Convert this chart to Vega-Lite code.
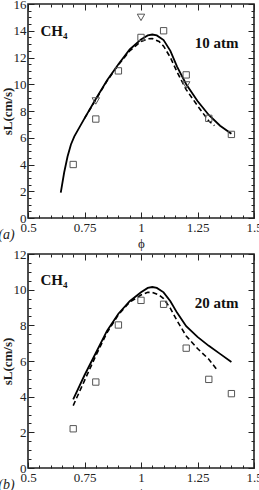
{
  "$schema": "https://vega.github.io/schema/vega-lite/v6.json",
  "padding": {"left": -3, "top": -3, "right": 0, "bottom": 0},
  "autosize": {"type": "pad"},
  "background": "white",
  "config": {
    "view": {"stroke": "#222", "strokeWidth": 1.6},
    "axis": {
      "grid": false,
      "domain": false,
      "tickColor": "#222",
      "tickWidth": 1,
      "labelFont": "Liberation Serif",
      "labelFontSize": 13,
      "labelColor": "#222",
      "labelFlush": false,
      "labelOverlap": false,
      "titleFont": "Liberation Serif",
      "titleColor": "#222"
    }
  },
  "datasets": {
    "curves": [
      {"panel": "a", "model": "solid", "phi": 0.645, "sL": 1.9},
      {"panel": "a", "model": "solid", "phi": 0.66, "sL": 3.4},
      {"panel": "a", "model": "solid", "phi": 0.675, "sL": 4.6},
      {"panel": "a", "model": "solid", "phi": 0.69, "sL": 5.5},
      {"panel": "a", "model": "solid", "phi": 0.705, "sL": 6.1},
      {"panel": "a", "model": "solid", "phi": 0.72, "sL": 6.55},
      {"panel": "a", "model": "solid", "phi": 0.75, "sL": 7.45},
      {"panel": "a", "model": "solid", "phi": 0.8, "sL": 8.9},
      {"panel": "a", "model": "solid", "phi": 0.85, "sL": 10.3},
      {"panel": "a", "model": "solid", "phi": 0.9, "sL": 11.5},
      {"panel": "a", "model": "solid", "phi": 0.95, "sL": 12.6},
      {"panel": "a", "model": "solid", "phi": 1.0, "sL": 13.35},
      {"panel": "a", "model": "solid", "phi": 1.03, "sL": 13.65},
      {"panel": "a", "model": "solid", "phi": 1.05, "sL": 13.72},
      {"panel": "a", "model": "solid", "phi": 1.07, "sL": 13.65},
      {"panel": "a", "model": "solid", "phi": 1.1, "sL": 13.3},
      {"panel": "a", "model": "solid", "phi": 1.13, "sL": 12.5},
      {"panel": "a", "model": "solid", "phi": 1.16, "sL": 11.3},
      {"panel": "a", "model": "solid", "phi": 1.2, "sL": 10.0},
      {"panel": "a", "model": "solid", "phi": 1.25, "sL": 8.75},
      {"panel": "a", "model": "solid", "phi": 1.3, "sL": 7.7},
      {"panel": "a", "model": "solid", "phi": 1.35, "sL": 6.9},
      {"panel": "a", "model": "solid", "phi": 1.4, "sL": 6.3},
      {"panel": "a", "model": "dashed", "phi": 0.75, "sL": 7.45},
      {"panel": "a", "model": "dashed", "phi": 0.8, "sL": 8.85},
      {"panel": "a", "model": "dashed", "phi": 0.85, "sL": 10.25},
      {"panel": "a", "model": "dashed", "phi": 0.9, "sL": 11.45},
      {"panel": "a", "model": "dashed", "phi": 0.95, "sL": 12.5},
      {"panel": "a", "model": "dashed", "phi": 1.0, "sL": 13.2},
      {"panel": "a", "model": "dashed", "phi": 1.03, "sL": 13.4},
      {"panel": "a", "model": "dashed", "phi": 1.05, "sL": 13.42},
      {"panel": "a", "model": "dashed", "phi": 1.08, "sL": 13.2},
      {"panel": "a", "model": "dashed", "phi": 1.1, "sL": 12.85},
      {"panel": "a", "model": "dashed", "phi": 1.13, "sL": 12.0},
      {"panel": "a", "model": "dashed", "phi": 1.16, "sL": 10.9},
      {"panel": "a", "model": "dashed", "phi": 1.2, "sL": 9.6},
      {"panel": "a", "model": "dashed", "phi": 1.25, "sL": 8.4},
      {"panel": "a", "model": "dashed", "phi": 1.3, "sL": 7.25},
      {"panel": "a", "model": "dashed", "phi": 1.325, "sL": 6.9},
      {"panel": "b", "model": "solid", "phi": 0.7, "sL": 3.85},
      {"panel": "b", "model": "solid", "phi": 0.75, "sL": 5.2},
      {"panel": "b", "model": "solid", "phi": 0.8, "sL": 6.45},
      {"panel": "b", "model": "solid", "phi": 0.85, "sL": 7.7},
      {"panel": "b", "model": "solid", "phi": 0.9, "sL": 8.65},
      {"panel": "b", "model": "solid", "phi": 0.95, "sL": 9.35},
      {"panel": "b", "model": "solid", "phi": 1.0, "sL": 9.85},
      {"panel": "b", "model": "solid", "phi": 1.03, "sL": 10.1},
      {"panel": "b", "model": "solid", "phi": 1.05, "sL": 10.15},
      {"panel": "b", "model": "solid", "phi": 1.07, "sL": 10.1},
      {"panel": "b", "model": "solid", "phi": 1.1, "sL": 9.85},
      {"panel": "b", "model": "solid", "phi": 1.13, "sL": 9.35},
      {"panel": "b", "model": "solid", "phi": 1.16, "sL": 8.7},
      {"panel": "b", "model": "solid", "phi": 1.2, "sL": 7.95},
      {"panel": "b", "model": "solid", "phi": 1.25, "sL": 7.35},
      {"panel": "b", "model": "solid", "phi": 1.3, "sL": 6.85},
      {"panel": "b", "model": "solid", "phi": 1.35, "sL": 6.4},
      {"panel": "b", "model": "solid", "phi": 1.4, "sL": 5.95},
      {"panel": "b", "model": "dashed", "phi": 0.7, "sL": 3.5},
      {"panel": "b", "model": "dashed", "phi": 0.75, "sL": 4.9},
      {"panel": "b", "model": "dashed", "phi": 0.8, "sL": 6.3},
      {"panel": "b", "model": "dashed", "phi": 0.85, "sL": 7.6},
      {"panel": "b", "model": "dashed", "phi": 0.9, "sL": 8.6},
      {"panel": "b", "model": "dashed", "phi": 0.95, "sL": 9.3},
      {"panel": "b", "model": "dashed", "phi": 1.0, "sL": 9.7},
      {"panel": "b", "model": "dashed", "phi": 1.03, "sL": 9.85},
      {"panel": "b", "model": "dashed", "phi": 1.05, "sL": 9.85},
      {"panel": "b", "model": "dashed", "phi": 1.08, "sL": 9.7},
      {"panel": "b", "model": "dashed", "phi": 1.1, "sL": 9.5},
      {"panel": "b", "model": "dashed", "phi": 1.13, "sL": 8.95},
      {"panel": "b", "model": "dashed", "phi": 1.16, "sL": 8.25},
      {"panel": "b", "model": "dashed", "phi": 1.2, "sL": 7.4},
      {"panel": "b", "model": "dashed", "phi": 1.25, "sL": 6.7},
      {"panel": "b", "model": "dashed", "phi": 1.3, "sL": 6.1},
      {"panel": "b", "model": "dashed", "phi": 1.34, "sL": 5.45}
    ],
    "measured": [
      {"panel": "a", "set": "square", "phi": 0.7, "sL": 4.0},
      {"panel": "a", "set": "square", "phi": 0.8, "sL": 7.4},
      {"panel": "a", "set": "square", "phi": 0.9, "sL": 11.0},
      {"panel": "a", "set": "square", "phi": 1.0, "sL": 13.5},
      {"panel": "a", "set": "square", "phi": 1.1, "sL": 14.0},
      {"panel": "a", "set": "square", "phi": 1.2, "sL": 10.7},
      {"panel": "a", "set": "square", "phi": 1.3, "sL": 7.45},
      {"panel": "a", "set": "square", "phi": 1.4, "sL": 6.25},
      {"panel": "a", "set": "triangle", "phi": 0.8, "sL": 8.75},
      {"panel": "a", "set": "triangle", "phi": 1.0, "sL": 15.0},
      {"panel": "a", "set": "triangle", "phi": 1.2, "sL": 9.95},
      {"panel": "b", "set": "square", "phi": 0.7, "sL": 2.2},
      {"panel": "b", "set": "square", "phi": 0.8, "sL": 4.82},
      {"panel": "b", "set": "square", "phi": 0.9, "sL": 8.02},
      {"panel": "b", "set": "square", "phi": 1.0, "sL": 9.4},
      {"panel": "b", "set": "square", "phi": 1.1, "sL": 9.18},
      {"panel": "b", "set": "square", "phi": 1.2, "sL": 6.72},
      {"panel": "b", "set": "square", "phi": 1.3, "sL": 4.97},
      {"panel": "b", "set": "square", "phi": 1.4, "sL": 4.17}
    ],
    "notes": [
      {"panel": "a", "kind": "name", "text": "CH₄", "phi": 0.615, "sL": 14.0},
      {"panel": "a", "kind": "name", "text": "10 atm", "phi": 1.335, "sL": 13.1},
      {"panel": "a", "kind": "tag", "text": "(a)", "phi": 0.405, "sL": -1.27},
      {"panel": "b", "kind": "name", "text": "CH₄", "phi": 0.615, "sL": 10.55},
      {"panel": "b", "kind": "name", "text": "20 atm", "phi": 1.335, "sL": 9.28},
      {"panel": "b", "kind": "tag", "text": "(b)", "phi": 0.405, "sL": -0.96}
    ]
  },
  "vconcat": [
    {
      "width": 226,
      "height": 214,
      "layer": [
        {
          "data": {"name": "curves"},
          "transform": [{"filter": "datum.panel == 'a' && datum.model == 'solid'"}],
          "mark": {"type": "line", "color": "black", "strokeWidth": 1.8, "clip": true},
          "encoding": {
            "x": {"field": "phi", "type": "quantitative", "scale": {"domain": [0.5, 1.5]},
              "axis": {"orient": "bottom", "title": "ϕ", "titleFontSize": 13, "titleFontWeight": "normal", "titlePadding": 0, "format": "~g", "labelPadding": 9,
                "values": [0.5,0.55,0.6,0.65,0.7,0.75,0.8,0.85,0.9,0.95,1,1.05,1.1,1.15,1.2,1.25,1.3,1.35,1.4,1.45,1.5],
                "labelExpr": "indexof([0.5,0.75,1,1.25,1.5], datum.value) >= 0 ? datum.label : ''",
                "tickSize": {"condition": {"test": "indexof([0.5,0.75,1,1.25,1.5], datum.value) >= 0", "value": -6}, "value": -3}}},
            "y": {"field": "sL", "type": "quantitative", "scale": {"domain": [0, 16]},
              "axis": {"orient": "left", "title": "sL(cm/s)", "titleFontSize": 13, "titleFontWeight": "bold", "titlePadding": -1, "format": "~g", "labelPadding": 8,
                "values": [0,0.5,1,1.5,2,2.5,3,3.5,4,4.5,5,5.5,6,6.5,7,7.5,8,8.5,9,9.5,10,10.5,11,11.5,12,12.5,13,13.5,14,14.5,15,15.5,16],
                "labelExpr": "datum.value % 2 == 0 ? datum.label : ''",
                "tickSize": {"condition": {"test": "datum.value % 2 == 0", "value": -6}, "value": -3}}}
          }
        },
        {
          "data": {"name": "curves"},
          "transform": [{"filter": "datum.panel == 'a' && datum.model == 'dashed'"}],
          "mark": {"type": "line", "color": "black", "strokeWidth": 1.6, "strokeDash": [5, 3], "clip": true},
          "encoding": {
            "x": {"field": "phi", "type": "quantitative", "scale": {"domain": [0.5, 1.5]},
              "axis": {"orient": "top", "title": null, "labels": false,
                "values": [0.5,0.55,0.6,0.65,0.7,0.75,0.8,0.85,0.9,0.95,1,1.05,1.1,1.15,1.2,1.25,1.3,1.35,1.4,1.45,1.5],
                "tickSize": {"condition": {"test": "indexof([0.5,0.75,1,1.25,1.5], datum.value) >= 0", "value": -6}, "value": -3}}},
            "y": {"field": "sL", "type": "quantitative", "scale": {"domain": [0, 16]},
              "axis": {"orient": "right", "title": null, "labels": false,
                "values": [0,0.5,1,1.5,2,2.5,3,3.5,4,4.5,5,5.5,6,6.5,7,7.5,8,8.5,9,9.5,10,10.5,11,11.5,12,12.5,13,13.5,14,14.5,15,15.5,16],
                "tickSize": {"condition": {"test": "datum.value % 2 == 0", "value": -6}, "value": -3}}}
          }
        },
        {
          "data": {"name": "measured"},
          "transform": [{"filter": "datum.panel == 'a' && datum.set == 'square'"}],
          "mark": {"type": "point", "shape": "square", "filled": false, "size": 40, "stroke": "#555", "strokeWidth": 1, "opacity": 1},
          "encoding": {
            "x": {"field": "phi", "type": "quantitative", "axis": null},
            "y": {"field": "sL", "type": "quantitative", "axis": null}
          }
        },
        {
          "data": {"name": "measured"},
          "transform": [{"filter": "datum.panel == 'a' && datum.set == 'triangle'"}],
          "mark": {"type": "point", "shape": "triangle-down", "filled": false, "size": 55, "stroke": "#555", "strokeWidth": 1, "opacity": 1},
          "encoding": {
            "x": {"field": "phi", "type": "quantitative", "axis": null},
            "y": {"field": "sL", "type": "quantitative", "axis": null}
          }
        },
        {
          "data": {"name": "notes"},
          "transform": [{"filter": "datum.panel == 'a' && datum.kind == 'name'"}],
          "mark": {"type": "text", "font": "Liberation Serif", "fontSize": 15, "fontWeight": "bold", "color": "#111", "clip": false},
          "encoding": {
            "x": {"field": "phi", "type": "quantitative", "axis": null},
            "y": {"field": "sL", "type": "quantitative", "axis": null},
            "text": {"field": "text"}
          }
        },
        {
          "data": {"name": "notes"},
          "transform": [{"filter": "datum.panel == 'a' && datum.kind == 'tag'"}],
          "mark": {"type": "text", "font": "Liberation Serif", "fontSize": 14, "fontStyle": "italic", "color": "#222", "clip": false},
          "encoding": {
            "x": {"field": "phi", "type": "quantitative", "axis": null},
            "y": {"field": "sL", "type": "quantitative", "axis": null},
            "text": {"field": "text"}
          }
        }
      ],
      "resolve": {"axis": {"x": "independent", "y": "independent"}}
    },
    {
      "width": 226,
      "height": 214,
      "layer": [
        {
          "data": {"name": "curves"},
          "transform": [{"filter": "datum.panel == 'b' && datum.model == 'solid'"}],
          "mark": {"type": "line", "color": "black", "strokeWidth": 1.8, "clip": true},
          "encoding": {
            "x": {"field": "phi", "type": "quantitative", "scale": {"domain": [0.5, 1.5]},
              "axis": {"orient": "bottom", "title": "ϕ", "titleFontSize": 13, "titleFontWeight": "normal", "titlePadding": 0, "format": "~g", "labelPadding": 9,
                "values": [0.5,0.55,0.6,0.65,0.7,0.75,0.8,0.85,0.9,0.95,1,1.05,1.1,1.15,1.2,1.25,1.3,1.35,1.4,1.45,1.5],
                "labelExpr": "indexof([0.5,0.75,1,1.25,1.5], datum.value) >= 0 ? datum.label : ''",
                "tickSize": {"condition": {"test": "indexof([0.5,0.75,1,1.25,1.5], datum.value) >= 0", "value": -6}, "value": -3}}},
            "y": {"field": "sL", "type": "quantitative", "scale": {"domain": [0, 12]},
              "axis": {"orient": "left", "title": "sL(cm/s)", "titleFontSize": 13, "titleFontWeight": "bold", "titlePadding": -1, "format": "~g", "labelPadding": 8,
                "values": [0,0.5,1,1.5,2,2.5,3,3.5,4,4.5,5,5.5,6,6.5,7,7.5,8,8.5,9,9.5,10,10.5,11,11.5,12],
                "labelExpr": "datum.value % 2 == 0 ? datum.label : ''",
                "tickSize": {"condition": {"test": "datum.value % 2 == 0", "value": -6}, "value": -3}}}
          }
        },
        {
          "data": {"name": "curves"},
          "transform": [{"filter": "datum.panel == 'b' && datum.model == 'dashed'"}],
          "mark": {"type": "line", "color": "black", "strokeWidth": 1.6, "strokeDash": [5, 3], "clip": true},
          "encoding": {
            "x": {"field": "phi", "type": "quantitative", "scale": {"domain": [0.5, 1.5]},
              "axis": {"orient": "top", "title": null, "labels": false,
                "values": [0.5,0.55,0.6,0.65,0.7,0.75,0.8,0.85,0.9,0.95,1,1.05,1.1,1.15,1.2,1.25,1.3,1.35,1.4,1.45,1.5],
                "tickSize": {"condition": {"test": "indexof([0.5,0.75,1,1.25,1.5], datum.value) >= 0", "value": -6}, "value": -3}}},
            "y": {"field": "sL", "type": "quantitative", "scale": {"domain": [0, 12]},
              "axis": {"orient": "right", "title": null, "labels": false,
                "values": [0,0.5,1,1.5,2,2.5,3,3.5,4,4.5,5,5.5,6,6.5,7,7.5,8,8.5,9,9.5,10,10.5,11,11.5,12],
                "tickSize": {"condition": {"test": "datum.value % 2 == 0", "value": -6}, "value": -3}}}
          }
        },
        {
          "data": {"name": "measured"},
          "transform": [{"filter": "datum.panel == 'b' && datum.set == 'square'"}],
          "mark": {"type": "point", "shape": "square", "filled": false, "size": 40, "stroke": "#555", "strokeWidth": 1, "opacity": 1},
          "encoding": {
            "x": {"field": "phi", "type": "quantitative", "axis": null},
            "y": {"field": "sL", "type": "quantitative", "axis": null}
          }
        },
        {
          "data": {"name": "notes"},
          "transform": [{"filter": "datum.panel == 'b' && datum.kind == 'name'"}],
          "mark": {"type": "text", "font": "Liberation Serif", "fontSize": 15, "fontWeight": "bold", "color": "#111", "clip": false},
          "encoding": {
            "x": {"field": "phi", "type": "quantitative", "axis": null},
            "y": {"field": "sL", "type": "quantitative", "axis": null},
            "text": {"field": "text"}
          }
        },
        {
          "data": {"name": "notes"},
          "transform": [{"filter": "datum.panel == 'b' && datum.kind == 'tag'"}],
          "mark": {"type": "text", "font": "Liberation Serif", "fontSize": 14, "fontStyle": "italic", "color": "#222", "clip": false},
          "encoding": {
            "x": {"field": "phi", "type": "quantitative", "axis": null},
            "y": {"field": "sL", "type": "quantitative", "axis": null},
            "text": {"field": "text"}
          }
        }
      ],
      "resolve": {"axis": {"x": "independent", "y": "independent"}}
    }
  ],
  "bounds": "flush",
  "spacing": 36
}
